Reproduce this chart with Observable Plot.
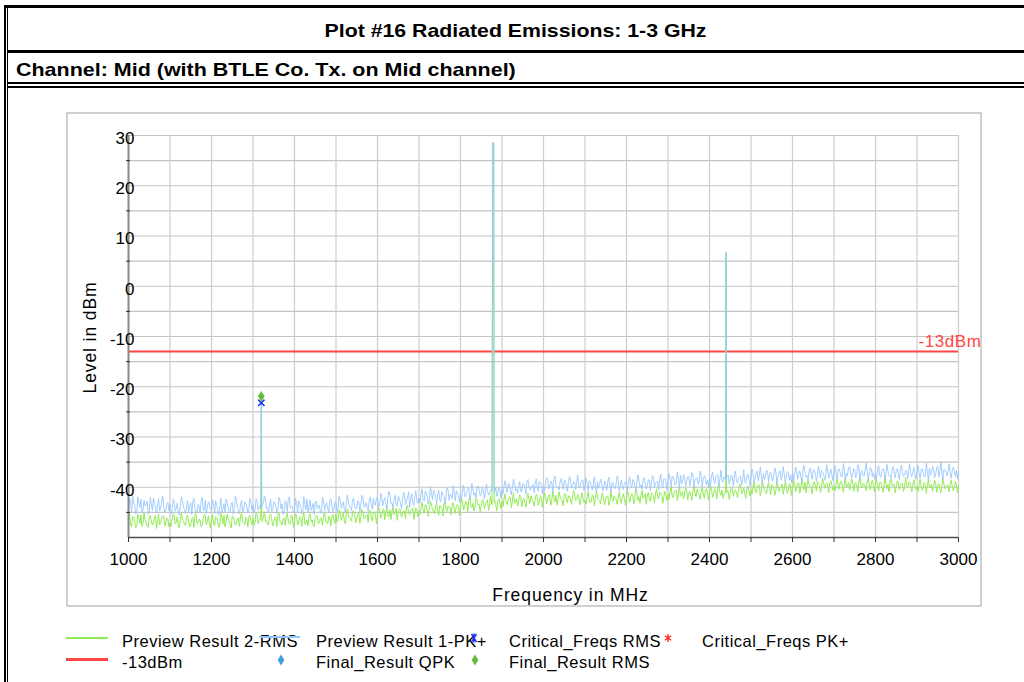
<!DOCTYPE html>
<html>
<head>
<meta charset="utf-8">
<script src="https://cdn.jsdelivr.net/npm/d3@7"></script>
<script src="https://cdn.jsdelivr.net/npm/@observablehq/plot@0.6"></script>
<style>
  html, body { margin: 0; padding: 0; background: #fff; }
  body { width: 1024px; height: 682px; position: relative; overflow: hidden; font-family: "Liberation Sans", Arial, sans-serif; color: #000; }
  .bar { position: absolute; background: #000; }
  .leg { position: absolute; font-size: 16.5px; line-height: 1; letter-spacing: 0.5px; white-space: nowrap; }
  .sample { position: absolute; }
  .mk { position: absolute; overflow: visible; }
</style>
</head>
<body>
<!-- frame -->
<div class="bar" style="left:4px;top:5px;width:2px;height:677px"></div>
<div class="bar" style="left:7px;top:5px;width:1px;height:677px"></div>
<div class="bar" style="left:4px;top:5px;width:1020px;height:3px"></div>
<div class="bar" style="left:7px;top:50px;width:1017px;height:3px"></div>
<div class="bar" style="left:7px;top:82px;width:1017px;height:2px"></div>
<div class="bar" style="left:7px;top:86px;width:1017px;height:2px"></div>

<div id="title" style="position:absolute;left:8px;right:0;top:9px;height:43px;display:flex;align-items:center;justify-content:center;font-weight:bold;font-size:19px;">
  <span style="display:inline-block;transform:scaleX(1.12);transform-origin:center">Plot #16 Radiated Emissions: 1-3 GHz</span>
</div>
<div id="subtitle" style="position:absolute;left:16px;top:55px;height:29px;display:flex;align-items:center;font-weight:bold;font-size:19px;">
  <span style="display:inline-block;transform:scaleX(1.13);transform-origin:left center">Channel: Mid (with BTLE Co. Tx. on Mid channel)</span>
</div>

<!-- chart panel -->
<div style="position:absolute;left:66px;top:112px;width:912px;height:491px;border:2px solid #d0d0d0;"></div>
<div id="chart" style="position:absolute;left:0;top:88px;"></div>

<!-- legend -->
<div id="legend"></div>

<script>
// ---------------- data ----------------
const freqStart = 1000;    // MHz, first sample of the "A" sweeps
const freqStep = 5;        // MHz between samples of one sweep
const freqOffsetB = 2.5;   // MHz, "B" samples sit halfway between "A" samples

// Preview Result 1-PK+ (light blue), dBm, samples at 1000, 1005, ... 3000
const previewPK = [
  -44.2, -42.9, -41.6, -43.5, -44.8, -43.1, -42.4, -44.5, -43.7, -42.8, -44.9, -43.3, -42.2, -44.1, -43.6, -44.7, -42.7, -43.9, -44.4, -43.0,
  -43.4, -44.8, -42.9, -44.2, -45.0, -43.6, -42.6, -44.5, -43.9, -44.9, -43.1, -42.8, -44.3, -45.1, -43.7, -43.0, -44.6, -42.5, -44.0, -43.5,
  -44.7, -43.2, -42.7, -44.4, -43.8, -45.0, -43.3, -42.4, -44.1, -44.8, -43.0, -43.9, -42.6, -44.5, -43.4, -44.9, -42.9, -43.7, -44.3, -43.1,
  -43.6, -44.5, -42.8, -43.9, -44.7, -43.2, -42.5, -44.1, -43.5, -44.8, -42.9, -43.7, -44.4, -42.6, -43.3, -44.6, -43.0, -42.4, -44.2, -43.8,
  -44.5, -43.1, -42.7, -44.0, -44.8, -43.4, -42.3, -43.9, -44.6, -43.2, -42.9, -44.3, -43.6, -44.9, -42.8, -43.5, -44.1, -42.6, -43.8, -44.4,
  -43.0, -44.2, -42.5, -43.6, -44.3, -42.8, -43.1, -44.0, -42.4, -43.7, -44.1, -42.9, -43.3, -42.1, -43.8, -44.0, -42.6, -43.2, -42.2, -43.5,
  -42.3, -43.6, -41.9, -42.7, -43.4, -42.0, -41.5, -43.1, -42.5, -43.5, -41.8, -42.9, -43.2, -41.4, -42.6, -40.9, -42.4, -43.0, -41.7, -42.8,
  -42.2, -41.3, -42.6, -40.8, -41.9, -42.4, -41.1, -40.6, -42.0, -41.5, -42.5, -40.9, -41.7, -42.1, -40.5, -41.4, -42.3, -41.0, -40.7, -41.6,
  -41.3, -40.4, -41.8, -40.9, -40.2, -41.5, -40.7, -41.1, -39.9, -40.6, -41.4, -40.3, -41.0, -40.5, -41.6, -40.2, -40.8, -40.0, -41.2, -40.4,
  -40.5, -39.6, -40.2, -39.3, -40.6, -39.9, -39.1, -40.3, -39.7, -40.8, -39.4, -40.0, -38.9, -39.8, -40.4, -39.5, -39.2, -40.1, -38.8, -39.6,
  -39.8, -39.0, -38.6, -39.7, -39.2, -38.4, -39.5, -40.0, -38.9, -39.3, -38.7, -39.9, -39.1, -38.5, -39.6, -39.0, -38.8, -39.7, -39.3, -38.6,
  -39.9, -39.2, -38.7, -39.8, -39.4, -40.1, -38.9, -39.5, -39.0, -40.2, -39.3, -38.8, -39.7, -39.1, -40.0, -39.4, -38.6, -39.6, -39.9, -39.2,
  -39.6, -38.8, -39.4, -38.5, -39.8, -39.1, -38.7, -39.5, -38.4, -39.2, -39.7, -38.6, -39.0, -38.2, -39.3, -38.9, -38.5, -39.4, -38.3, -38.8,
  -38.9, -38.3, -37.8, -38.7, -39.1, -38.4, -37.6, -38.8, -38.2, -38.9, -37.9, -38.5, -37.4, -38.6, -38.1, -38.7, -37.7, -38.4, -38.0, -38.6,
  -38.2, -37.7, -38.6, -38.0, -37.5, -38.4, -38.8, -37.9, -38.3, -37.6, -38.5, -38.1, -37.4, -38.7, -38.2, -37.8, -38.4, -38.9, -37.7, -38.3,
  -37.9, -37.2, -38.2, -36.8, -37.6, -38.0, -37.3, -37.8, -36.9, -37.5, -38.1, -37.4, -37.0, -37.7, -36.7, -37.9, -37.3, -38.0, -37.1, -37.6,
  -37.0, -37.6, -36.8, -37.4, -37.9, -36.6, -37.2, -37.7, -36.9, -37.5, -36.5, -37.3, -37.8, -37.0, -36.7, -37.4, -37.9, -36.8, -37.1, -37.6,
  -36.8, -37.4, -36.4, -37.1, -37.6, -36.6, -37.2, -36.2, -36.9, -37.5, -36.7, -37.3, -36.1, -37.0, -37.6, -36.5, -36.9, -37.4, -36.3, -37.1,
  -37.2, -36.6, -37.5, -36.9, -36.4, -37.3, -36.8, -37.7, -36.5, -37.1, -36.7, -37.4, -36.3, -37.0, -37.6, -36.8, -36.5, -37.2, -36.9, -37.5,
  -36.7, -37.3, -36.5, -37.0, -37.6, -36.8, -36.2, -37.1, -36.6, -37.4, -35.8, -36.9, -37.2, -36.4, -37.0, -36.7, -37.3, -36.5, -36.9, -36.6,
  -37.0
];
// Preview Result 1-PK+, samples at 1002.5, 1007.5, ... 2997.5
const previewPKB = [
  -42.1, -44.9, -43.2, -45.3, -41.9, -44.0, -45.1, -42.6, -43.4, -45.4, -42.0, -44.6, -43.0, -45.2, -42.3, -44.3, -41.8, -45.0, -43.5, -44.7,
  -45.3, -42.4, -44.7, -43.2, -45.5, -41.9, -44.1, -45.2, -42.7, -43.8, -45.4, -42.2, -44.9, -43.4, -45.1, -42.0, -44.5, -45.3, -42.9, -44.2,
  -42.5, -45.2, -43.6, -45.5, -42.1, -44.4, -45.0, -42.8, -44.8, -43.1, -45.4, -41.8, -44.2, -45.3, -42.6, -44.7, -43.3, -45.1, -42.2, -44.6,
  -45.1, -42.3, -44.5, -43.0, -45.3, -41.7, -44.2, -45.0, -42.4, -44.6, -43.1, -45.2, -42.0, -44.3, -45.4, -42.7, -44.8, -41.9, -44.0, -45.1,
  -42.2, -44.9, -43.4, -45.3, -41.9, -44.5, -45.0, -42.5, -44.1, -45.4, -42.8, -43.7, -45.2, -42.0, -44.6, -43.1, -45.1, -42.3, -44.8, -42.9,
  -44.8, -41.8, -44.2, -42.9, -45.0, -41.5, -43.9, -44.6, -42.2, -44.3, -42.7, -44.9, -41.6, -44.0, -43.1, -44.7, -41.9, -44.4, -43.5, -42.1,
  -44.0, -41.2, -43.7, -42.1, -44.3, -40.8, -43.3, -44.1, -41.6, -43.8, -42.3, -44.2, -41.0, -43.5, -42.0, -44.0, -41.3, -43.6, -40.7, -43.2,
  -43.1, -40.3, -42.8, -41.2, -43.4, -39.9, -42.5, -41.0, -43.2, -40.6, -42.9, -41.5, -43.3, -40.1, -42.6, -41.8, -39.7, -42.7, -41.1, -43.0,
  -42.2, -39.6, -41.9, -40.3, -42.4, -39.2, -41.6, -42.1, -39.8, -41.7, -40.1, -42.3, -39.4, -41.5, -40.6, -42.0, -39.5, -41.8, -40.0, -42.2,
  -41.3, -38.7, -41.0, -39.4, -41.5, -38.4, -40.7, -41.2, -38.9, -40.9, -39.3, -41.4, -38.5, -40.6, -39.7, -41.1, -38.3, -40.8, -39.1, -41.3,
  -40.7, -38.1, -40.3, -38.8, -41.0, -37.8, -40.0, -40.6, -38.3, -40.4, -38.7, -40.8, -37.9, -40.1, -39.0, -40.5, -37.6, -40.2, -38.6, -40.7,
  -38.2, -40.8, -38.9, -40.5, -37.9, -41.0, -40.2, -38.4, -40.7, -38.8, -40.6, -38.0, -40.9, -39.1, -40.3, -37.8, -40.8, -38.6, -40.4, -38.9,
  -40.5, -37.9, -40.2, -38.6, -40.8, -37.5, -39.9, -40.4, -38.1, -40.3, -38.5, -40.7, -37.7, -40.0, -38.9, -40.5, -37.4, -40.1, -38.3, -40.6,
  -37.3, -39.9, -38.0, -39.6, -36.9, -40.2, -39.3, -37.5, -39.8, -37.9, -39.7, -37.1, -40.1, -38.3, -39.4, -36.8, -39.9, -37.7, -39.5, -40.0,
  -39.6, -37.0, -39.3, -37.7, -39.9, -36.6, -39.0, -39.5, -37.2, -39.4, -37.6, -39.8, -36.8, -39.1, -38.0, -39.6, -36.5, -39.2, -37.4, -39.7,
  -36.4, -39.0, -37.1, -38.7, -36.0, -39.3, -38.4, -36.6, -38.9, -37.0, -38.8, -36.2, -39.2, -37.4, -38.5, -35.9, -39.0, -36.8, -38.6, -39.1,
  -38.6, -36.0, -38.3, -36.7, -38.9, -35.6, -38.0, -38.5, -36.2, -38.4, -36.6, -38.8, -35.8, -38.1, -37.0, -38.6, -35.5, -38.2, -36.4, -38.7,
  -35.7, -38.3, -36.4, -38.0, -35.3, -38.6, -37.7, -35.9, -38.2, -36.3, -38.1, -35.5, -38.5, -36.7, -37.8, -35.2, -38.3, -36.1, -37.9, -38.4,
  -38.3, -35.7, -38.0, -36.4, -38.6, -35.4, -37.7, -38.2, -35.9, -38.1, -36.3, -38.5, -35.6, -37.8, -36.7, -38.3, -35.3, -37.9, -36.1, -38.4,
  -35.6, -38.2, -36.3, -37.9, -35.2, -38.5, -37.6, -35.8, -38.1, -36.2, -38.0, -34.9, -38.4, -36.6, -37.7, -35.4, -38.2, -36.0, -37.8, -38.3
];

// Preview Result 2-RMS (light green), dBm, samples at 1000, 1005, ... 3000
const previewRMS = [
  -46.2, -47.4, -45.8, -46.9, -47.6, -46.0, -45.5, -47.1, -46.5, -47.8, -45.9, -46.7, -47.3, -45.6, -46.8, -47.5, -46.1, -45.7, -47.0, -46.4,
  -47.2, -46.3, -45.6, -47.0, -47.7, -46.1, -46.6, -47.4, -45.8, -46.9, -47.6, -46.0, -45.5, -47.2, -46.4, -47.9, -46.2, -45.7, -46.8, -47.3,
  -46.5, -47.1, -45.9, -46.7, -47.5, -46.0, -45.6, -47.0, -46.3, -47.4, -45.8, -46.6, -47.2, -46.1, -45.7, -46.9, -47.5, -46.2, -45.9, -46.8,
  -46.1, -47.0, -45.7, -46.5, -47.3, -45.9, -46.8, -47.4, -45.6, -46.3, -47.1, -46.0, -45.5, -46.9, -47.5, -46.2, -45.8, -46.7, -47.2, -46.0,
  -46.6, -45.7, -47.1, -46.2, -45.9, -47.4, -46.5, -45.6, -46.9, -47.6, -46.0, -45.8, -47.0, -46.3, -45.5, -46.8, -47.3, -46.1, -45.7, -46.4,
  -45.3, -46.4, -45.0, -45.9, -46.6, -45.2, -45.7, -46.2, -44.8, -45.6, -46.3, -45.1, -45.8, -44.9, -46.0, -45.4, -44.7, -45.9, -45.2, -45.5,
  -45.3, -44.6, -45.7, -44.3, -45.1, -45.8, -44.5, -44.9, -45.5, -44.2, -45.0, -44.4, -45.6, -44.7, -43.9, -45.2, -44.6, -44.1, -45.0, -44.5,
  -44.8, -43.9, -44.4, -43.5, -44.7, -44.0, -43.4, -44.6, -43.8, -44.9, -43.6, -44.2, -43.3, -44.5, -43.7, -44.1, -43.2, -44.4, -43.6, -43.9,
  -43.7, -42.9, -43.9, -43.1, -42.6, -43.6, -43.2, -44.0, -42.8, -43.4, -43.8, -42.7, -43.3, -42.5, -43.7, -43.0, -42.8, -43.5, -42.6, -43.1,
  -42.9, -42.2, -43.1, -42.5, -41.9, -42.8, -43.2, -42.3, -42.7, -41.8, -42.6, -43.0, -42.1, -42.5, -41.7, -42.9, -42.4, -42.0, -42.8, -42.3,
  -42.5, -41.8, -42.3, -41.5, -42.6, -42.0, -41.6, -42.4, -41.9, -42.7, -41.4, -42.2, -41.7, -42.5, -42.0, -41.5, -42.3, -41.8, -42.6, -42.1,
  -42.6, -41.9, -42.4, -42.8, -41.7, -42.3, -42.0, -42.7, -41.6, -42.5, -42.1, -41.8, -42.9, -42.2, -41.7, -42.4, -42.0, -42.6, -41.9, -42.3,
  -42.1, -41.4, -42.0, -41.6, -42.4, -41.2, -41.9, -41.5, -42.2, -41.3, -41.8, -42.3, -41.1, -41.7, -41.4, -42.0, -41.0, -41.6, -41.9, -41.3,
  -41.5, -40.8, -41.6, -41.0, -40.6, -41.4, -41.8, -40.9, -41.3, -40.5, -41.2, -41.7, -40.7, -41.1, -40.4, -41.5, -40.8, -41.2, -40.6, -41.0,
  -41.1, -40.5, -41.3, -40.7, -40.3, -41.0, -40.6, -41.4, -40.4, -40.9, -41.2, -40.2, -40.8, -41.1, -40.5, -40.0, -40.9, -41.3, -40.4, -40.7,
  -40.5, -39.9, -40.7, -40.1, -39.6, -40.4, -40.0, -40.8, -39.7, -40.3, -39.5, -40.2, -40.6, -39.8, -40.1, -39.4, -40.3, -39.9, -40.5, -39.7,
  -40.0, -39.4, -39.9, -39.2, -40.1, -39.6, -39.0, -39.8, -39.5, -40.2, -39.3, -39.7, -38.9, -39.6, -40.0, -39.2, -39.5, -39.9, -39.1, -39.6,
  -39.8, -39.2, -39.6, -38.9, -39.7, -39.3, -40.0, -39.1, -39.5, -38.8, -39.4, -39.9, -39.0, -39.6, -39.3, -39.8, -38.9, -39.5, -39.2, -39.7,
  -39.3, -39.8, -39.1, -39.6, -40.0, -39.2, -39.5, -38.9, -39.7, -39.4, -39.9, -39.0, -39.6, -39.3, -40.1, -39.5, -39.1, -39.8, -39.4, -39.7,
  -39.9, -39.3, -39.8, -40.2, -39.5, -39.7, -40.1, -39.4, -39.9, -39.2, -39.8, -40.3, -39.6, -39.4, -40.0, -39.7, -39.3, -39.9, -40.1, -39.6,
  -39.8
];
// Preview Result 2-RMS, samples at 1002.5, 1007.5, ... 2997.5
const previewRMSB = [
  -45.2, -47.9, -46.0, -48.1, -45.4, -47.2, -47.8, -45.1, -46.9, -48.0, -45.6, -47.5, -46.3, -48.2, -45.3, -47.0, -45.8, -47.7, -46.1, -47.9,
  -47.8, -45.3, -47.3, -45.9, -48.1, -45.1, -46.8, -47.6, -45.5, -47.9, -46.2, -48.0, -45.2, -47.1, -46.5, -47.7, -45.4, -47.4, -45.7, -48.2,
  -45.5, -47.7, -46.1, -48.0, -45.2, -47.3, -47.9, -45.4, -46.7, -48.1, -45.8, -47.5, -46.3, -47.8, -45.1, -47.0, -46.0, -47.9, -45.6, -47.4,
  -47.6, -45.0, -47.2, -45.8, -47.9, -44.9, -46.6, -47.5, -45.3, -47.7, -46.0, -47.8, -45.1, -46.9, -46.3, -47.6, -45.2, -47.3, -45.5, -48.0,
  -45.3, -47.5, -45.9, -47.8, -45.0, -47.1, -47.7, -45.2, -46.5, -47.9, -45.6, -47.3, -46.1, -47.6, -44.9, -46.8, -45.8, -47.7, -45.4, -47.2,
  -46.9, -44.5, -46.6, -45.1, -47.3, -44.3, -46.1, -46.8, -44.7, -47.1, -45.4, -47.2, -44.4, -46.3, -45.6, -47.0, -44.6, -46.7, -44.9, -47.3,
  -44.0, -46.2, -44.6, -46.5, -43.7, -45.8, -46.4, -43.9, -45.2, -46.6, -44.3, -46.0, -44.8, -46.3, -43.6, -45.5, -44.5, -46.4, -44.1, -45.9,
  -45.4, -43.0, -45.1, -43.6, -45.8, -42.8, -44.6, -45.3, -43.2, -45.6, -43.9, -45.7, -42.9, -44.8, -44.1, -45.5, -43.1, -45.2, -43.4, -45.7,
  -42.2, -44.5, -42.8, -44.8, -41.9, -44.1, -44.7, -42.1, -43.5, -44.9, -42.5, -44.3, -43.0, -44.6, -41.8, -43.8, -42.7, -44.7, -42.3, -44.2,
  -43.8, -41.3, -43.5, -42.0, -44.1, -41.1, -42.9, -43.7, -41.5, -43.9, -42.2, -44.0, -41.2, -43.2, -42.5, -43.8, -41.4, -43.6, -41.7, -44.0,
  -41.0, -43.3, -41.6, -43.6, -40.7, -42.9, -43.5, -40.9, -42.3, -43.7, -41.3, -43.1, -41.8, -43.4, -40.6, -42.6, -41.5, -43.5, -41.1, -43.0,
  -43.4, -40.9, -43.1, -41.6, -43.7, -40.7, -42.5, -43.3, -41.1, -43.5, -41.8, -43.6, -40.8, -42.8, -42.1, -43.4, -41.0, -43.2, -41.3, -43.6,
  -40.7, -43.0, -41.3, -43.3, -40.4, -42.6, -43.2, -40.6, -42.0, -43.4, -41.0, -42.8, -41.5, -43.1, -40.3, -42.3, -41.2, -43.2, -40.8, -42.7,
  -42.4, -39.9, -42.1, -40.6, -42.7, -39.7, -41.5, -42.3, -40.1, -42.5, -40.8, -42.6, -39.8, -41.8, -41.1, -42.4, -40.0, -42.2, -40.3, -42.6,
  -39.7, -42.0, -40.3, -42.3, -39.4, -41.6, -42.2, -39.6, -41.0, -42.4, -40.0, -41.8, -40.5, -42.1, -39.3, -41.3, -40.2, -42.2, -39.8, -41.7,
  -41.4, -38.9, -41.1, -39.6, -41.7, -38.7, -40.5, -41.3, -39.1, -41.5, -39.8, -41.6, -38.8, -40.8, -40.1, -41.4, -39.0, -41.2, -39.3, -41.6,
  -38.6, -40.9, -39.2, -41.2, -38.3, -40.5, -41.1, -38.5, -39.9, -41.3, -38.9, -40.7, -39.4, -41.0, -38.2, -40.2, -39.1, -41.1, -38.7, -40.6,
  -40.7, -38.2, -40.4, -38.9, -41.0, -38.0, -39.8, -40.6, -38.4, -40.8, -39.1, -40.9, -38.1, -40.1, -39.4, -40.7, -38.3, -40.5, -38.6, -40.9,
  -38.4, -40.7, -39.0, -41.0, -38.1, -40.3, -40.9, -38.3, -39.7, -41.1, -38.7, -40.5, -39.2, -40.8, -38.0, -40.0, -38.9, -40.9, -38.5, -40.4,
  -40.9, -38.4, -40.6, -39.1, -41.2, -38.2, -40.0, -40.8, -38.6, -41.0, -39.3, -41.1, -38.3, -40.3, -39.6, -40.9, -38.5, -40.7, -38.8, -41.1
];

// narrow emissions (finer frequency resolution around the peaks)
const peakFreq  = [1318, 1319, 1320, 1321, 1322, 1876, 1877, 1878, 1879, 1880, 1881, 1882, 2438, 2439, 2440, 2441, 2442];
const peakPK    = [-43.5, -44.2, -23.0, -43.9, -43.4, -40.6, 12.8, 28.7, 28.6, 28.4, -40.2, -41.1, -38.4, -38.1, 6.8, -38.6, -37.9];
const peakRMS   = [-46.4, -45.9, -22.4, -46.2, -46.8, -43.5, -4.5, 28.5, 28.4, 28.2, -43.0, -42.6, -41.0, -40.6, 6.6, -41.2, -40.5];

// final / critical results
const finalRMSFreq = [1320];
const finalRMSLevel = [-21.9];
const criticalRMSFreq = [1320];
const criticalRMSLevel = [-23.2];

// limit line
const limitLabel = ["-13dBm"];
const limitLevel = [-13];

// axes
const xDomain = [1000, 3000];
const yDomain = [-50, 30];
const xLabelTicks = [1000, 1200, 1400, 1600, 1800, 2000, 2200, 2400, 2600, 2800, 3000];
const xMinorTicks = [1000, 1100, 1200, 1300, 1400, 1500, 1600, 1700, 1800, 1900, 2000, 2100, 2200, 2300, 2400, 2500, 2600, 2700, 2800, 2900, 3000];
const yLabelTicks = [-40, -30, -20, -10, 0, 10, 20, 30];
const yGridTicks = [-50, -45, -40, -35, -30, -25, -20, -15, -10, -5, 0, 5, 10, 15, 20, 25, 30];
const yMinorTicks = [-45, -35, -25, -15, -5, 5, 15, 25];
const xTitle = "Frequency in MHz";
const yTitle = "Level in dBm";

// ---------------- build table ----------------
if (previewPK.length !== previewRMS.length) throw new Error("A length mismatch " + previewPK.length + " " + previewRMS.length);
if (previewPKB.length !== previewRMSB.length) throw new Error("B length mismatch " + previewPKB.length + " " + previewRMSB.length);

const nearPeak = f => peakFreq.some(p => Math.abs(p - f) < 2);
const rowsA = previewPK.map((v, i) => ({ f: freqStart + i * freqStep, pk: v, rms: previewRMS[i] }));
const rowsB = previewPKB.map((v, i) => ({ f: freqStart + freqOffsetB + i * freqStep, pk: v, rms: previewRMSB[i] }));
const peakRows = peakFreq.map((f, i) => ({ f, pk: peakPK[i], rms: peakRMS[i] }));
const trace = rowsA.concat(rowsB).filter(r => !nearPeak(r.f)).concat(peakRows).sort((a, b) => a.f - b.f);

const finalRMS = finalRMSFreq.map((f, i) => ({ f, v: finalRMSLevel[i] }));
const criticalRMS = criticalRMSFreq.map((f, i) => ({ f, v: criticalRMSLevel[i] }));
const limit = limitLevel.map((v, i) => ({ v, label: limitLabel[i] }));

const tallDiamond = {
  draw(ctx, size) {
    const r = Math.sqrt(size) / 2;
    ctx.moveTo(0, -r * 1.75);
    ctx.lineTo(r * 1.1, 0);
    ctx.lineTo(0, r * 1.75);
    ctx.lineTo(-r * 1.1, 0);
    ctx.closePath();
  }
};

const BLUE = "#93c6ff", GREEN = "#92ec55", RED = "#ff4646";
const fmt = d => String(d);

const chart = Plot.plot({
  width: 1024,
  height: 522,
  marginLeft: 128,
  marginRight: 66,
  marginTop: 47,
  marginBottom: 73,
  style: { fontFamily: "'Liberation Sans', Arial, sans-serif", background: "transparent", overflow: "visible" },
  x: { domain: xDomain, axis: null, label: null },
  y: { domain: yDomain, axis: null, label: null },
  marks: [
    Plot.gridY(yGridTicks, { stroke: "#c4c4c4", strokeOpacity: 1, strokeWidth: 1.2 }),
    Plot.gridX(xMinorTicks, { stroke: "#cdcdcd", strokeOpacity: 1, strokeWidth: 1.2 }),
    Plot.ruleY(limit, { y: "v", stroke: RED, strokeWidth: 2 }),
    Plot.line(trace, { x: "f", y: "rms", stroke: GREEN, strokeWidth: 1 }),
    Plot.line(trace, { x: "f", y: "pk", stroke: BLUE, strokeWidth: 1, strokeOpacity: 0.85 }),
    // axis lines
    Plot.ruleX([xDomain[0]], { stroke: "#8a8a8a", strokeWidth: 2 }),
    Plot.ruleY([yDomain[0]], { stroke: "#505050", strokeWidth: 1.5 }),
    // y minor ticks
    Plot.axisY({ ticks: yMinorTicks, tickSize: 4, dx: 2, tickFormat: () => "", stroke: "#333", label: null }),
    // y labels
    Plot.axisY({ ticks: yLabelTicks, tickSize: 0, tickPadding: -6, fontSize: 17, dy: 3, fill: "#000", tickFormat: fmt, label: null }),
    // x ticks and labels
    Plot.axisX({ ticks: xMinorTicks, tickSize: 5, tickFormat: () => "", stroke: "#333", label: null }),
    Plot.axisX({ ticks: xLabelTicks, tickSize: 0, tickPadding: 15, fontSize: 17, tickFormat: fmt, fill: "#000", label: null }),
    // markers
    Plot.dot(criticalRMS, { x: "f", y: "v", symbol: "times", r: 3, stroke: "#2233ee", strokeWidth: 1.5 }),
    Plot.dot(finalRMS, { x: "f", y: "v", symbol: tallDiamond, r: 3.4, fill: "#5cbf33", stroke: "none" }),
    // limit label
    Plot.text(limit, { x: () => xDomain[1], y: "v", text: "label", textAnchor: "end", dx: 23, dy: -10, fill: RED, fontSize: 17 }),
    // axis titles
    Plot.text([yTitle], { frameAnchor: "left", textAnchor: "middle", lineAnchor: "middle", rotate: -90, dx: -38, dy: 1, fontSize: 17.5, fill: "#000" }),
    Plot.text([xTitle], { frameAnchor: "bottom", textAnchor: "middle", lineAnchor: "middle", dx: 27, dy: 58, fontSize: 17.5, fill: "#000" })
  ]
});
chart.querySelectorAll("text").forEach(t => {
  const s = t.textContent;
  if (s === xTitle || s === yTitle) t.style.letterSpacing = "0.9px";
  if (s === limitLabel[0]) t.style.letterSpacing = "0.6px";
});
document.getElementById("chart").appendChild(chart);

// ---------------- legend ----------------
const legendRow1 = ["Preview Result 2-RMS", "Preview Result 1-PK+", "Critical_Freqs RMS", "Critical_Freqs PK+"];
const legendRow2 = ["-13dBm", "Final_Result QPK", "Final_Result RMS"];
const legendCols = [122, 316, 509, 702];
const rowTops = [633, 654];
const leg = document.getElementById("legend");
legendRow1.forEach((t, i) => {
  const d = document.createElement("div"); d.className = "leg"; d.textContent = t;
  d.style.left = legendCols[i] + "px"; d.style.top = rowTops[0] + "px"; leg.appendChild(d);
});
legendRow2.forEach((t, i) => {
  const d = document.createElement("div"); d.className = "leg"; d.textContent = t;
  d.style.left = legendCols[i] + "px"; d.style.top = rowTops[1] + "px"; leg.appendChild(d);
});
function sample(left, top, w, h, color) {
  const d = document.createElement("div"); d.className = "sample";
  Object.assign(d.style, { left: left + "px", top: top + "px", width: w + "px", height: h + "px", background: color });
  leg.appendChild(d);
}
sample(66, 637, 42, 1.5, GREEN);
sample(259, 636, 41, 1.5, BLUE);
sample(66, 658, 42, 2.5, RED);
function marker(cx, cy, svgInner) {
  const ns = "http://www.w3.org/2000/svg";
  const s = document.createElementNS(ns, "svg");
  s.setAttribute("class", "mk"); s.setAttribute("width", 16); s.setAttribute("height", 16);
  s.setAttribute("viewBox", "-8 -8 16 16");
  s.style.left = (cx - 8) + "px"; s.style.top = (cy - 8) + "px";
  s.innerHTML = svgInner; leg.appendChild(s);
}
const diamondPath = "M0,-5.5 L3.3,0 L0,5.5 L-3.3,0 Z";
marker(281, 660, `<path d="${diamondPath}" fill="#3a9ee0"/>`);
marker(475, 660, `<path d="${diamondPath}" fill="#5cbf33"/>`);
marker(474, 638, `<path d="M-2.5,-4 L2.5,4 M2.5,-4 L-2.5,4 M0,-4.5 L0,4.5" stroke="#2233ee" stroke-width="1.5" fill="none"/>`);
marker(668, 638, `<path d="M0,-4 L0,4 M-3.2,-2.2 L3.2,2.2 M3.2,-2.2 L-3.2,2.2" stroke="#ff2222" stroke-width="1.3" fill="none"/>`);
</script>
</body>
</html>
